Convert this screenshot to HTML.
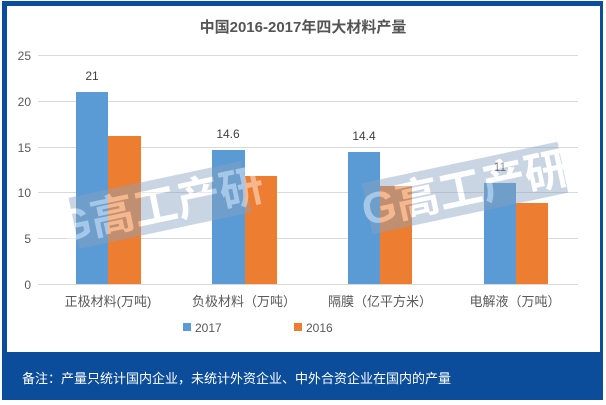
<!DOCTYPE html>
<html><head><meta charset="utf-8"><style>
body{margin:0;width:606px;height:405px;background:#fff;overflow:hidden;position:relative;font-family:"Liberation Sans","Noto Sans CJK SC",sans-serif}
.frame{position:absolute;left:2px;top:1px;width:601px;height:399px;background:#0b4d9a}
.panel{position:absolute;left:7px;top:6px;width:593px;height:346px;background:#fff}
.foot{position:absolute;left:22px;top:368px;color:#fff;font-size:13px}
</style></head><body>
<div class="frame"></div><div class="panel"></div>
<svg width="606" height="405" style="position:absolute;left:0;top:0" font-family="Liberation Sans, Noto Sans CJK SC, sans-serif">
<text x="303" y="32" text-anchor="middle" font-size="15" font-weight="bold" fill="#555">中国2016-2017年四大材料产量</text>
<g stroke="#d9d9d9" stroke-width="1">
<line x1="38" x2="578" y1="55.5" y2="55.5"/><line x1="38" x2="578" y1="101.5" y2="101.5"/>
<line x1="38" x2="578" y1="147.5" y2="147.5"/><line x1="38" x2="578" y1="192.5" y2="192.5"/>
<line x1="38" x2="578" y1="238.5" y2="238.5"/><line x1="38" x2="578" y1="284.5" y2="284.5"/>
</g>
<g font-size="12" fill="#595959" text-anchor="end">
<text x="31" y="60">25</text><text x="31" y="106">20</text><text x="31" y="152">15</text>
<text x="31" y="197">10</text><text x="31" y="243">5</text><text x="31" y="289">0</text>
</g>
<g fill="#5b9bd5">
<rect x="76" y="92" width="32" height="192"/><rect x="212" y="150" width="33" height="134"/>
<rect x="348" y="152" width="32" height="132"/><rect x="484" y="183" width="32" height="101"/>
</g>
<g fill="#ed7d31">
<rect x="108" y="136" width="33" height="148"/><rect x="245" y="176" width="32" height="108"/>
<rect x="380" y="186" width="32" height="98"/><rect x="516" y="203" width="32" height="81"/>
</g>
<g font-size="12" fill="#404040" text-anchor="middle">
<text x="92" y="80">21</text><text x="228" y="138">14.6</text><text x="364" y="140">14.4</text><text x="500" y="171">11</text>
</g>
<g opacity="0.45">
<g transform="translate(160,205) rotate(-12)"><rect x="-88" y="-26" width="176" height="52" fill="#8aa3c0"/><text x="0" y="16" text-anchor="middle" font-size="44" font-weight="bold" fill="#fff">G高工产研</text></g>
<g transform="translate(465,188) rotate(-12)"><rect x="-100" y="-26" width="200" height="52" fill="#8aa3c0"/><text x="0" y="16" text-anchor="middle" font-size="44" font-weight="bold" fill="#fff">G高工产研</text></g>
</g>
<g font-size="13" fill="#595959" text-anchor="middle">
<text x="108" y="306">正极材料(万吨)</text><text x="244" y="306">负极材料（万吨）</text>
<text x="380" y="306">隔膜（亿平方米）</text><text x="515" y="306">电解液（万吨）</text>
</g>
<rect x="183" y="323" width="8" height="8" fill="#5b9bd5"/><text x="195" y="332" font-size="12" fill="#595959">2017</text>
<rect x="294" y="323" width="8" height="8" fill="#ed7d31"/><text x="306" y="332" font-size="12" fill="#595959">2016</text>
</svg>
<div class="foot">备注：产量只统计国内企业，未统计外资企业、中外合资企业在国内的产量</div>
</body></html>
